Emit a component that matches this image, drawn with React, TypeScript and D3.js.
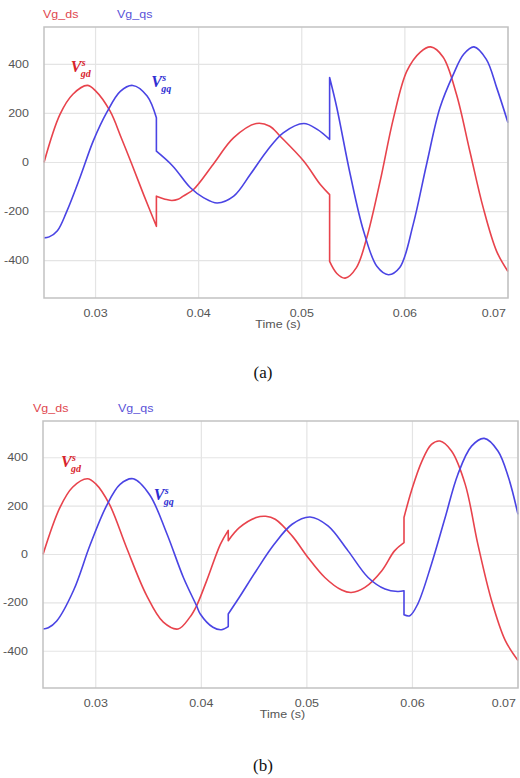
import * as d3 from 'd3';
import React from 'react';

// time axis ticks and voltage ticks (shared by both panels)
const timeTicks = [0.03, 0.04, 0.05, 0.06, 0.07];
const voltTicks = [400, 200, 0, -200, -400];

// panel (a) - repeated time values mark vertical jumps
const tA_ds = [0.025, 0.02655, 0.0278, 0.0292, 0.03, 0.0314, 0.0325, 0.0335, 0.0347, 0.0359, 0.0359, 0.0369, 0.0374, 0.038, 0.0385, 0.0395, 0.0414, 0.0434, 0.0456, 0.0469, 0.0479, 0.0502, 0.0518, 0.0527, 0.0527, 0.0534, 0.0542, 0.0553, 0.0563, 0.0576, 0.0589, 0.0602, 0.0615, 0.0625, 0.0637, 0.065, 0.0663, 0.0676, 0.0689, 0.07];
const vA_ds = [0, 196, 278, 314, 292, 210, 100, -5, -135, -260, -137, -151, -155, -150, -137, -110, -8, 101, 159, 148, 107, 5, -90, -131, -403, -452, -471, -428, -307, -76, 182, 373, 450, 471, 430, 278, 46, -185, -362, -444];
const tA_qs = [0.025, 0.0255, 0.0263, 0.0272, 0.0285, 0.0298, 0.0311, 0.0324, 0.0336, 0.035, 0.0359, 0.0359, 0.0375, 0.0392, 0.0405, 0.0418, 0.0434, 0.045, 0.0466, 0.0482, 0.0502, 0.0515, 0.0527, 0.0527, 0.0534, 0.0547, 0.056, 0.0573, 0.0584, 0.0595, 0.0608, 0.0621, 0.0634, 0.0647, 0.0657, 0.0667, 0.0679, 0.0689, 0.07];
const vA_qs = [-307, -303, -278, -200, -60, 90, 205, 290, 314, 271, 182, 46, -15, -103, -144, -165, -137, -49, 46, 121, 159, 135, 94, 346, 223, -49, -280, -424, -457, -428, -253, -8, 223, 359, 441, 471, 420, 305, 162];

// panel (b)
const tB_ds = [0.025, 0.0266, 0.0278, 0.0292, 0.03, 0.0313, 0.0329, 0.0348, 0.0364, 0.0378, 0.0389, 0.03955, 0.0405, 0.0418, 0.04255, 0.04255, 0.0436, 0.0452, 0.0461, 0.047, 0.0486, 0.0501, 0.0517, 0.0533, 0.0542, 0.0555, 0.0571, 0.0583, 0.0592, 0.0592, 0.0599, 0.0609, 0.0618, 0.0626, 0.0637, 0.065, 0.0662, 0.0675, 0.0688, 0.07];
const vB_ds = [0, 194, 278, 313, 292, 207, 30, -168, -280, -308, -260, -212, -109, 42, 100, 57, 111, 153, 158, 146, 77, -12, -95, -147, -157, -136, -67, 15, 49, 153, 263, 386, 455, 469, 428, 290, 42, -191, -356, -438];
const tB_qs = [0.025, 0.0255, 0.0263, 0.0279, 0.02945, 0.031, 0.0323, 0.03355, 0.0351, 0.0367, 0.0383, 0.03955, 0.0399, 0.0411, 0.0419, 0.04255, 0.04255, 0.0436, 0.0452, 0.0469, 0.0486, 0.0503, 0.052, 0.0539, 0.0558, 0.0574, 0.0586, 0.0592, 0.0592, 0.05975, 0.0605, 0.0618, 0.0631, 0.0643, 0.0656, 0.0668, 0.0681, 0.0691, 0.07];
const vB_qs = [-308, -303, -275, -148, 38, 200, 290, 313, 247, 90, -95, -212, -246, -301, -311, -298, -246, -177, -67, 42, 125, 155, 118, 15, -95, -143, -153, -150, -249, -253, -205, -40, 153, 331, 448, 480, 428, 318, 166];

const RED = '#e8434c';
const BLUE = '#4a44e4';

function segments(ts, vs) {
    const segs = [];
    let cur = [];
    for (let i = 0; i < ts.length; i++) {
        if (i > 0 && ts[i] === ts[i - 1]) {
            segs.push(cur);
            cur = [];
        }
        cur.push([ts[i], vs[i]]);
    }
    segs.push(cur);
    return segs;
}

function Stretched({ x, y, anchor, fill, size, children }) {
    return (
        <text transform={`translate(${x},${y}) scale(1.25,1)`} textAnchor={anchor}
            fill={fill} fontSize={size} fontFamily="Liberation Sans, Arial, sans-serif">
            {children}
        </text>
    );
}

function VLabel({ x, y, color, sub }) {
    const font = 'Liberation Serif, Times New Roman, serif';
    return (
        <g fill={color} fontFamily={font} fontStyle="italic" fontWeight="bold">
            <text x={x} y={y} fontSize={16}>V</text>
            <text x={x + 11} y={y - 6} fontSize={10}>s</text>
            <text x={x + 10} y={y + 5} fontSize={10}>{sub}</text>
        </g>
    );
}

function Panel({ box, ds, qs, legendX, labels, caption, captionY }) {
    const x = d3.scaleLinear().domain([0.025, 0.07]).range([box.left, box.right]);
    const y = d3.scaleLinear().domain([-552, 552]).range([box.bottom, box.top]);

    const line = d3.line().x(d => x(d[0])).y(d => y(d[1])).curve(d3.curveCatmullRom.alpha(0.5));
    const pathOf = (ts, vs) => segments(ts, vs)
        .map((s, i) => {
            const d = line(s);
            return i === 0 ? d : 'L' + d.slice(1);
        }).join('');

    return (
        <g>
            <rect x={box.left} y={box.top} width={box.right - box.left} height={box.bottom - box.top}
                fill="#fff" />
            {timeTicks.map(t => (
                <line key={'gx' + t} x1={x(t)} x2={x(t)} y1={box.top} y2={box.bottom}
                    stroke="#e4e4e4" strokeWidth={1.2} />
            ))}
            {voltTicks.map(v => (
                <line key={'gy' + v} x1={box.left} x2={box.right} y1={y(v)} y2={y(v)}
                    stroke="#e4e4e4" strokeWidth={1.2} />
            ))}
            <path d={pathOf(ds[0], ds[1])} fill="none" stroke={RED} strokeWidth={1.6} strokeLinejoin="round" />
            <path d={pathOf(qs[0], qs[1])} fill="none" stroke={BLUE} strokeWidth={1.6} strokeLinejoin="round" />
            <rect x={box.left} y={box.top} width={box.right - box.left} height={box.bottom - box.top}
                fill="none" stroke="#c2c2c2" strokeWidth={1.5} />

            {voltTicks.map(v => (
                <Stretched key={'ty' + v} x={box.left - 15} y={y(v) + 3.5} anchor="end" fill="#555" size={10}>
                    {v}
                </Stretched>
            ))}
            {timeTicks.map((t, i) => (
                <Stretched key={'tx' + t} x={i === timeTicks.length - 1 ? box.right - 2 : x(t)}
                    y={box.bottom + 18.5} anchor={i === timeTicks.length - 1 ? 'end' : 'middle'}
                    fill="#555" size={10}>
                    {t.toFixed(2)}
                </Stretched>
            ))}
            <Stretched x={(box.left + box.right) / 2 + 2} y={box.bottom + 30} anchor="middle" fill="#555" size={10}>
                Time (s)
            </Stretched>

            <Stretched x={legendX[0]} y={box.top - 9} anchor="start" fill="#e0474f" size={10}>Vg_ds</Stretched>
            <Stretched x={legendX[1]} y={box.top - 9} anchor="start" fill="#5a52d8" size={10}>Vg_qs</Stretched>

            <VLabel x={x(labels[0][0])} y={y(labels[0][1])} color="#d8232b" sub="gd" />
            <VLabel x={x(labels[1][0])} y={y(labels[1][1])} color="#2e2ed2" sub="gq" />

            <text x={263} y={captionY} textAnchor="middle" fontSize={17}
                fontFamily="Liberation Serif, Times New Roman, serif" fill="#111">
                {caption}
            </text>
        </g>
    );
}

export default function App() {
    return (
        <svg width={520} height={778} style={{ position: 'absolute', left: 0, top: 0, background: '#fff' }}>
            <Panel box={{ left: 44, right: 508, top: 27, bottom: 298 }}
                ds={[tA_ds, vA_ds]} qs={[tA_qs, vA_qs]} legendX={[43, 117]}
                labels={[[0.0276, 367], [0.0354, 306]]} caption="(a)" captionY={378} />
            <Panel box={{ left: 43, right: 518, top: 421, bottom: 688 }}
                ds={[tB_ds, vB_ds]} qs={[tB_qs, vB_qs]} legendX={[33, 118]}
                labels={[[0.0267, 363], [0.0355, 227]]} caption="(b)" captionY={771} />
        </svg>
    );
}
